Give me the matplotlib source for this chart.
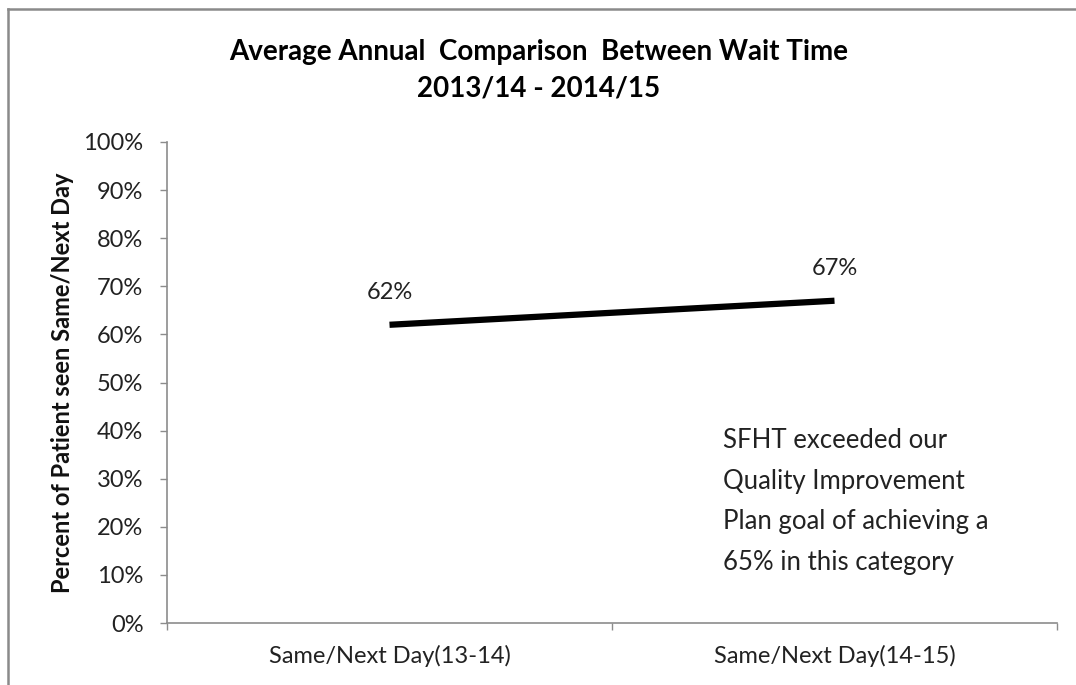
import matplotlib.pyplot as plt
from matplotlib.lines import Line2D
from matplotlib.ticker import PercentFormatter

plt.rcParams['font.family'] = ['Lato', 'DejaVu Sans']

categories = ['Same/Next Day(13-14)', 'Same/Next Day(14-15)']
values = [0.62, 0.67]
value_labels = ['62%', '67%']
note = ('SFHT exceeded our\nQuality Improvement\nPlan goal of achieving a\n'
        '65% in this category')

fig = plt.figure(figsize=(10.76, 6.85), dpi=100)
ax = fig.add_axes([167 / 1076, 1 - 623 / 685, 890 / 1076, 481 / 685])

x = list(range(len(categories)))
ax.plot(x, values, color='black', linewidth=4.5, solid_capstyle='butt')
for xi, v, lab in zip(x, values, value_labels):
    ax.annotate(lab, (xi, v), xytext=(0, 23), textcoords='offset points',
                ha='center', va='center', fontsize=17, color='#222222')

ax.set_xlim(-0.5, len(categories) - 0.5)
ax.set_ylim(0, 1)
ax.set_yticks([i / 10 for i in range(11)])
ax.yaxis.set_major_formatter(PercentFormatter(1.0, decimals=0))
ax.set_xticks(x)
ax.set_xticklabels(categories)
ax.set_xticks([-0.5, 0.5, 1.5], minor=True)

gray = '#8c8c8c'
for s in ['top', 'right']:
    ax.spines[s].set_visible(False)
for s in ['left', 'bottom']:
    ax.spines[s].set_color(gray)
    ax.spines[s].set_linewidth(1.2)

ax.tick_params(axis='y', direction='out', length=5, width=1, color=gray,
               pad=12, labelsize=17, labelcolor='#222222')
ax.tick_params(axis='x', which='major', length=0, pad=16, labelsize=17,
               labelcolor='#222222')
ax.tick_params(axis='x', which='minor', direction='out', length=5, width=1,
               color=gray)

ax.set_ylabel('Percent of Patient seen Same/Next Day', fontsize=17,
              fontweight='bold', color='#111111')
ax.yaxis.set_label_coords(-93 / 890, 0.5)

fig.text(539 / 1076, 1 - 52 / 685, 'Average Annual  Comparison  Between Wait Time',
         ha='center', va='center', fontsize=20, fontweight='bold')
fig.text(539 / 1076, 1 - 89 / 685, '2013/14 - 2014/15',
         ha='center', va='center', fontsize=20, fontweight='bold')

fig.text(723 / 1076, 1 - 428 / 685, note, ha='left', va='top', fontsize=18.5,
         color='#222222', linespacing=1.78)

# outer chart border (right and bottom edges fall outside the image)
fig.add_artist(Line2D([8 / 1076, 8 / 1076], [-0.1, 1 - 9 / 685],
                      transform=fig.transFigure, color='#8a8a8a', linewidth=1.8))
fig.add_artist(Line2D([8 / 1076, 1.1], [1 - 9 / 685, 1 - 9 / 685],
                      transform=fig.transFigure, color='#8a8a8a', linewidth=1.8))

fig.savefig('out.png', dpi=100)
